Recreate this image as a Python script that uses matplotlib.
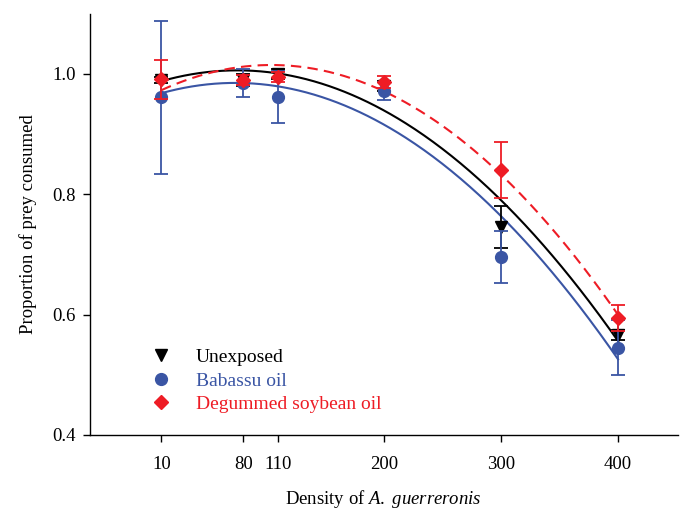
import numpy as np
import matplotlib
matplotlib.use("Agg")
import matplotlib.pyplot as plt
from matplotlib.lines import Line2D

plt.rcParams['font.family'] = ['Liberation Serif', 'DejaVu Serif']
plt.rcParams['mathtext.fontset'] = 'custom'
plt.rcParams['mathtext.rm'] = 'Liberation Serif'
plt.rcParams['mathtext.it'] = 'Liberation Serif:italic'

density = [10, 80, 110, 200, 300, 400]
tick_labels = ["10", "80", "110", "200", "300", "400"]

unexposed = [0.990, 0.990, 1.000, 0.980, 0.746, 0.566]
unexposed_err = [0.005, 0.010, 0.008, 0.008, 0.035, 0.008]
babassu = [0.961, 0.985, 0.962, 0.971, 0.696, 0.545]
babassu_err = [0.127, 0.023, 0.043, 0.015, 0.043, 0.046]
soybean = [0.991, 0.990, 0.995, 0.987, 0.840, 0.594]
soybean_err = [0.032, 0.008, 0.008, 0.010, 0.047, 0.022]

# quadratic fit coefficients (a, b, c) for y = a x^2 + b x + c
fit_unexposed = [-4.26e-6, 6.39e-4, 0.982]
fit_babassu = [-4.30e-6, 6.29e-4, 0.9621]
fit_soybean = [-4.74e-6, 9.86e-4, 0.9636]

series_names = ["Unexposed", "Babassu oil", "Degummed soybean oil"]
colors = ["#000000", "#3a55a4", "#ee1c25"]
markers = ["v", "o", "D"]
msizes = [8.5, 8.5, 7.5]
lstyles = ["-", "-", (0, (5, 3))]

fig = plt.figure(figsize=(6.86, 5.11), dpi=100)
ax = fig.add_axes([0.131, 0.149, 0.857, 0.824])

xs = np.linspace(min(density), max(density), 300)
ys_list = [unexposed, babassu, soybean]
err_list = [unexposed_err, babassu_err, soybean_err]
fits = [fit_unexposed, fit_babassu, fit_soybean]

for i in range(3):
    ax.plot(xs, np.polyval(fits[i], xs), color=colors[i], lw=1.5,
            linestyle=lstyles[i], zorder=2)

for i in range(3):
    ax.errorbar(density, ys_list[i], yerr=err_list[i], fmt=markers[i],
                color=colors[i], ms=msizes[i], elinewidth=1.3, capsize=5,
                capthick=1.3, zorder=3 + i)

ax.set_xlim(-51, 451)
ax.set_ylim(0.4, 1.1)
ax.set_xticks(density)
ax.set_xticklabels(tick_labels)
ax.set_yticks([0.4, 0.6, 0.8, 1.0])
ax.set_yticklabels(["0.4", "0.6", "0.8", "1.0"])
ax.spines['top'].set_visible(False)
ax.spines['right'].set_visible(False)
for s in ['left', 'bottom']:
    ax.spines[s].set_linewidth(1.0)
ax.tick_params(axis='x', direction='out', length=5, width=1, labelsize=13.5, pad=10)
ax.tick_params(axis='y', direction='out', length=5, width=1, labelsize=13.5, pad=5)

ax.set_xlabel("Density of $\\mathit{A.\\ guerreronis}$", fontsize=13.5, labelpad=11)
ax.set_ylabel("Proportion of prey consumed", fontsize=13.5, labelpad=11)

handles = [Line2D([], [], linestyle='none', marker=markers[i], color=colors[i],
                  ms=msizes[i]) for i in range(3)]
leg = ax.legend(handles, series_names, loc='upper left',
                bbox_to_anchor=(0.088, 0.228), frameon=False, fontsize=14,
                handlelength=1.0, handletextpad=1.3, labelspacing=0.3,
                borderpad=0.0)
for t, c in zip(leg.get_texts(), colors):
    t.set_color(c)

fig.savefig("out.png", dpi=100)
